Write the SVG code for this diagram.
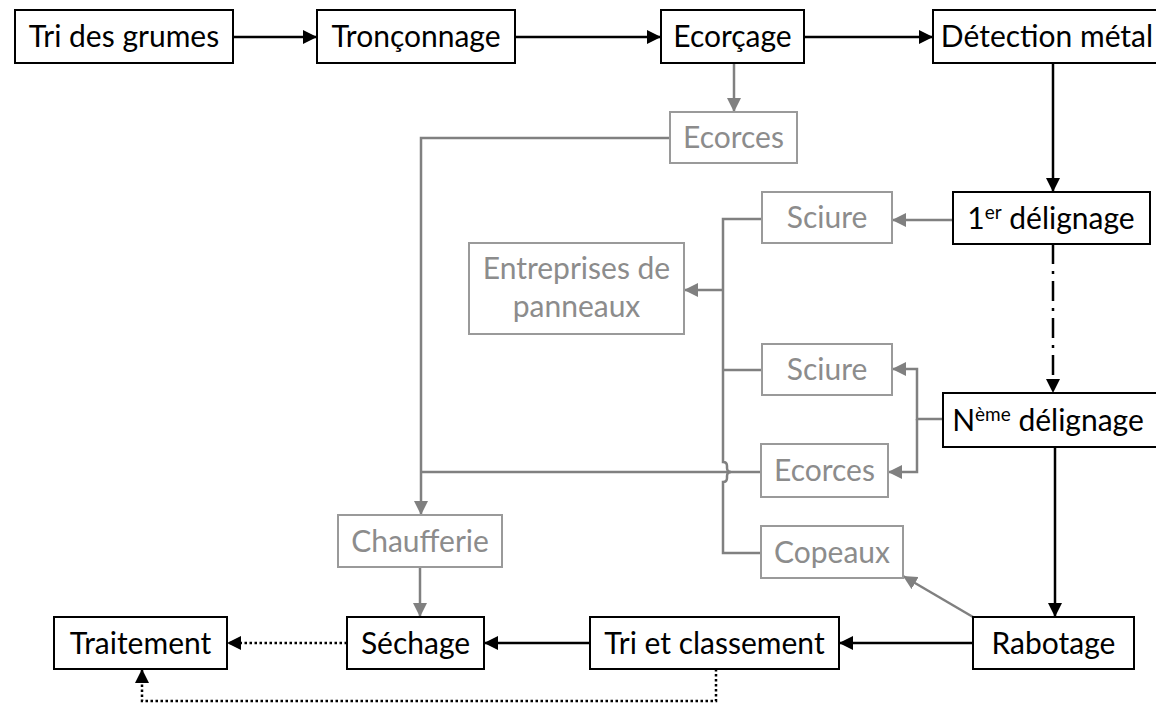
<svg xmlns="http://www.w3.org/2000/svg" width="1156" height="703" viewBox="0 0 1156 703">
  <style>
    .box { fill: #ffffff; stroke: #000000; stroke-width: 2; }
    .gbox { fill: #ffffff; stroke: #9a9a9a; stroke-width: 2; }
    .lbl { font-family: Lato, "Liberation Sans", sans-serif; font-size: 30px; fill: #000000; text-anchor: middle; }
    .glbl { font-family: Lato, "Liberation Sans", sans-serif; font-size: 30px; fill: #8c8c8c; text-anchor: middle; }
    .blk { fill: none; stroke: #000000; stroke-width: 2.5; }
    .gry { fill: none; stroke: #808080; stroke-width: 2.5; }
    .dot { stroke-dasharray: 2.5 2.5; }
    .dashdot { stroke-dasharray: 20 7 3 7; }
  </style>
  <defs>
    <marker id="ab" markerUnits="userSpaceOnUse" markerWidth="14" markerHeight="14" viewBox="0 0 12 12" refX="12" refY="6" orient="auto">
      <path d="M0,0 L12,6 L0,12 Z" fill="#000000"/>
    </marker>
    <marker id="ag" markerUnits="userSpaceOnUse" markerWidth="14" markerHeight="14" viewBox="0 0 12 12" refX="12" refY="6" orient="auto">
      <path d="M0,0 L12,6 L0,12 Z" fill="#808080"/>
    </marker>
  </defs>

  <!-- connectors -->
  <g id="connectors">
    <!-- main line -->
    <line class="blk" x1="233" y1="37" x2="317" y2="37" marker-end="url(#ab)"/>
    <line class="blk" x1="515" y1="37" x2="661" y2="37" marker-end="url(#ab)"/>
    <line class="blk" x1="804" y1="37" x2="933" y2="37" marker-end="url(#ab)"/>
    <line class="blk" x1="1053" y1="63" x2="1053" y2="192" marker-end="url(#ab)"/>
    <line class="blk dashdot" x1="1053" y1="244" x2="1053" y2="393" marker-end="url(#ab)"/>
    <line class="blk" x1="1055" y1="447" x2="1055" y2="617" marker-end="url(#ab)"/>
    <line class="blk" x1="973" y1="643" x2="839" y2="643" marker-end="url(#ab)"/>
    <line class="blk" x1="590" y1="643" x2="484" y2="643" marker-end="url(#ab)"/>
    <line class="blk dot" x1="347" y1="643" x2="227" y2="643" marker-end="url(#ab)"/>
    <path class="blk dot" d="M716,669 V701 H142 V669" marker-end="url(#ab)"/>

    <!-- by-products -->
    <line class="gry" x1="734" y1="63" x2="734" y2="112" marker-end="url(#ag)"/>
    <path class="gry" d="M670,138 H421 V515" marker-end="url(#ag)"/>
    <line class="gry" x1="762" y1="472" x2="421" y2="472"/>
    <line class="gry" x1="420" y1="567" x2="420" y2="617" marker-end="url(#ag)"/>
    <line class="gry" x1="953" y1="220" x2="892" y2="220" marker-end="url(#ag)"/>
    <path class="gry" d="M943,419 H917 V369 H892" marker-end="url(#ag)"/>
    <path class="gry" d="M917,419 V472 H888" marker-end="url(#ag)"/>
    <line class="gry" x1="973" y1="617" x2="903" y2="576" marker-end="url(#ag)"/>
    <!-- collector towards the panel makers, hopping over the bark line -->
    <path class="gry" d="M762,219 H723 V462 q4,0 4,4 v2 q0,4 4,4 q-4,0 -4,4 v2 q0,4 -4,4 V553 H762"/>
    <line class="gry" x1="723" y1="370" x2="762" y2="370"/>
    <line class="gry" x1="723" y1="290" x2="684" y2="290" marker-end="url(#ag)"/>
  </g>

  <g id="tri-grumes">
    <rect class="box" x="15" y="10" width="218" height="53"/>
    <text class="lbl" x="124" y="47">Tri des grumes</text>
  </g>
  <g id="tronconnage">
    <rect class="box" x="317" y="10" width="198" height="53"/>
    <text class="lbl" x="416" y="47">Tronçonnage</text>
  </g>
  <g id="ecorcage">
    <rect class="box" x="661" y="10" width="143" height="53"/>
    <text class="lbl" x="732.5" y="47">Ecorçage</text>
  </g>
  <g id="detection-metal">
    <rect class="box" x="933" y="10" width="230" height="53"/>
    <text class="lbl" x="1047" y="47">Détection métal</text>
  </g>
  <g id="ecorces-1">
    <rect class="gbox" x="670" y="112" width="127" height="51"/>
    <text class="glbl" x="733.5" y="148">Ecorces</text>
  </g>
  <g id="delignage-1">
    <rect class="box" x="953" y="192" width="197" height="52"/>
    <text class="lbl" x="1051" y="229">1<tspan font-size="19" dy="-10">er</tspan><tspan dy="10"> délignage</tspan></text>
  </g>
  <g id="sciure-1">
    <rect class="gbox" x="762" y="192" width="130" height="51"/>
    <text class="glbl" x="827" y="228">Sciure</text>
  </g>
  <g id="entreprises-panneaux">
    <rect class="gbox" x="469" y="243" width="215" height="91"/>
    <text class="glbl" x="576.5" y="279">Entreprises de</text>
    <text class="glbl" x="576.5" y="317">panneaux</text>
  </g>
  <g id="sciure-2">
    <rect class="gbox" x="762" y="344" width="130" height="51"/>
    <text class="glbl" x="827" y="380">Sciure</text>
  </g>
  <g id="delignage-n">
    <rect class="box" x="943" y="393" width="220" height="54"/>
    <text class="lbl" x="1048" y="431">N<tspan font-size="19" dy="-10">ème</tspan><tspan dy="10"> délignage</tspan></text>
  </g>
  <g id="ecorces-2">
    <rect class="gbox" x="761" y="444" width="127" height="53"/>
    <text class="glbl" x="824.5" y="481">Ecorces</text>
  </g>
  <g id="chaufferie">
    <rect class="gbox" x="338" y="515" width="164" height="52"/>
    <text class="glbl" x="420" y="552">Chaufferie</text>
  </g>
  <g id="copeaux">
    <rect class="gbox" x="761" y="526" width="142" height="52"/>
    <text class="glbl" x="832" y="563">Copeaux</text>
  </g>
  <g id="traitement">
    <rect class="box" x="54" y="617" width="173" height="52"/>
    <text class="lbl" x="140.5" y="654">Traitement</text>
  </g>
  <g id="sechage">
    <rect class="box" x="347" y="617" width="137" height="52"/>
    <text class="lbl" x="415.5" y="654">Séchage</text>
  </g>
  <g id="tri-classement">
    <rect class="box" x="590" y="617" width="249" height="52"/>
    <text class="lbl" x="714.5" y="654">Tri et classement</text>
  </g>
  <g id="rabotage">
    <rect class="box" x="973" y="617" width="161" height="52"/>
    <text class="lbl" x="1053.5" y="654">Rabotage</text>
  </g>
</svg>
